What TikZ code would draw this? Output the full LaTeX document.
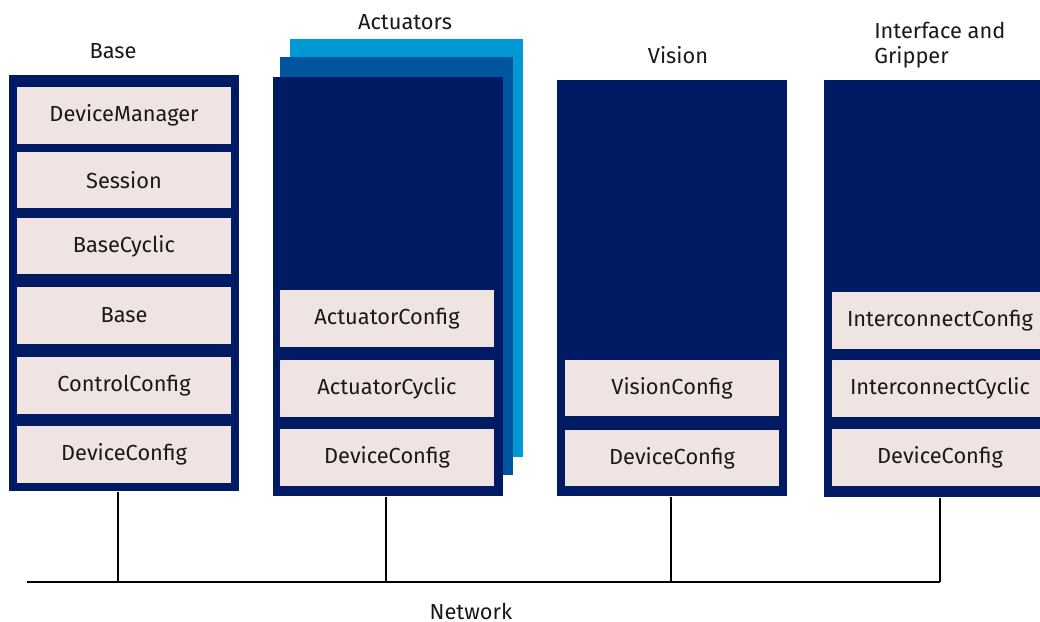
\documentclass[tikz,border=0pt]{standalone}
\usepackage{fontspec}
\setmainfont{Fira Sans}
\usepackage{xcolor}
\usetikzlibrary{positioning, calc}

\definecolor{navy}{RGB}{0,27,99}
\definecolor{midblue}{RGB}{0,86,158}
\definecolor{skyblue}{RGB}{0,153,214}
\definecolor{boxfill}{RGB}{239,228,225}
\definecolor{ink}{RGB}{25,25,25}

\begin{document}
\begin{tikzpicture}[
  x=0.025cm, y=-0.025cm,
  every node/.style={font=\fontsize{15.5}{18}\selectfont, text=ink},
  panel/.style={fill=navy, inner sep=0pt, minimum width=163.6pt, anchor=north west},
  layer/.style={inner sep=0pt, minimum width=165.7pt, minimum height=297.3pt, anchor=north west},
  module/.style={fill=boxfill, inner sep=0pt, minimum width=152.2pt, minimum height=40pt},
  title/.style={inner sep=0pt},
  wire/.style={line width=1.1pt, draw=black},
]
  \clip (0,0) rectangle (1040,622);

  % stacked actuator layers
  \node[layer, fill=skyblue] (actB) at (290,39) {};
  \node[layer, fill=midblue] (actM) at (280,57) {};

  % panels
  \node[panel, minimum height=295.9pt] (base) at (9,75) {};
  \node[panel, minimum height=298.0pt] (act) at (273,77) {};
  \node[panel, minimum height=295.9pt] (vis) at (557,80) {};
  \node[panel, minimum width=165pt, minimum height=296.6pt] (grip) at (824,80) {};

  % titles
  \node[title] (tBase) at (113,51) {Base};
  \node[title] (tAct) at (405,22) {Actuators};
  \node[title] (tVis) at (678,55) {Vision};
  \node[title, align=left, anchor=west] (tGrip) at (874,45) {Interface and\\Gripper};

  % base modules
  \foreach \y/\lbl [count=\i] in {115.5/DeviceManager, 180/Session, 246/BaseCyclic,
      315.5/Base, 385.5/ControlConfig, 454.5/DeviceConfig} {
    \node[module] (b\i) at (124,\y) {\lbl};
  }

  % actuator modules
  \foreach \y/\lbl [count=\i] in {318.5/ActuatorConfig, 388.5/ActuatorCyclic, 457.5/DeviceConfig} {
    \node[module] (a\i) at (387,\y) {\lbl};
  }

  % vision modules
  \foreach \y/\lbl [count=\i] in {388/VisionConfig, 458/DeviceConfig} {
    \node[module] (v\i) at (672,\y) {\lbl};
  }

  % interface modules
  \foreach \y/\lbl [count=\i] in {320.5/InterconnectConfig, 388.5/InterconnectCyclic, 457.5/DeviceConfig} {
    \node[module, minimum width=153.6pt] (g\i) at (940,\y) {\lbl};
  }

  % network bus
  \coordinate (netL) at (27,582);
  \coordinate (netR) at (940,582);
  \coordinate (tapB) at (118,582);
  \coordinate (tapA) at (386,582);
  \coordinate (tapV) at (671,582);
  \draw[line width=1.5pt] (netL) -- (netR);
  \node[title] (net) at (471,611) {Network};

  % drops to the bus
  \draw[wire] (tapB |- base.south) -- (tapB);
  \draw[wire] (tapA |- act.south) -- (tapA);
  \draw[wire] (tapV |- vis.south) -- (tapV);
  \draw[wire] (netR |- grip.south) -- (netR);
\end{tikzpicture}
\end{document}
